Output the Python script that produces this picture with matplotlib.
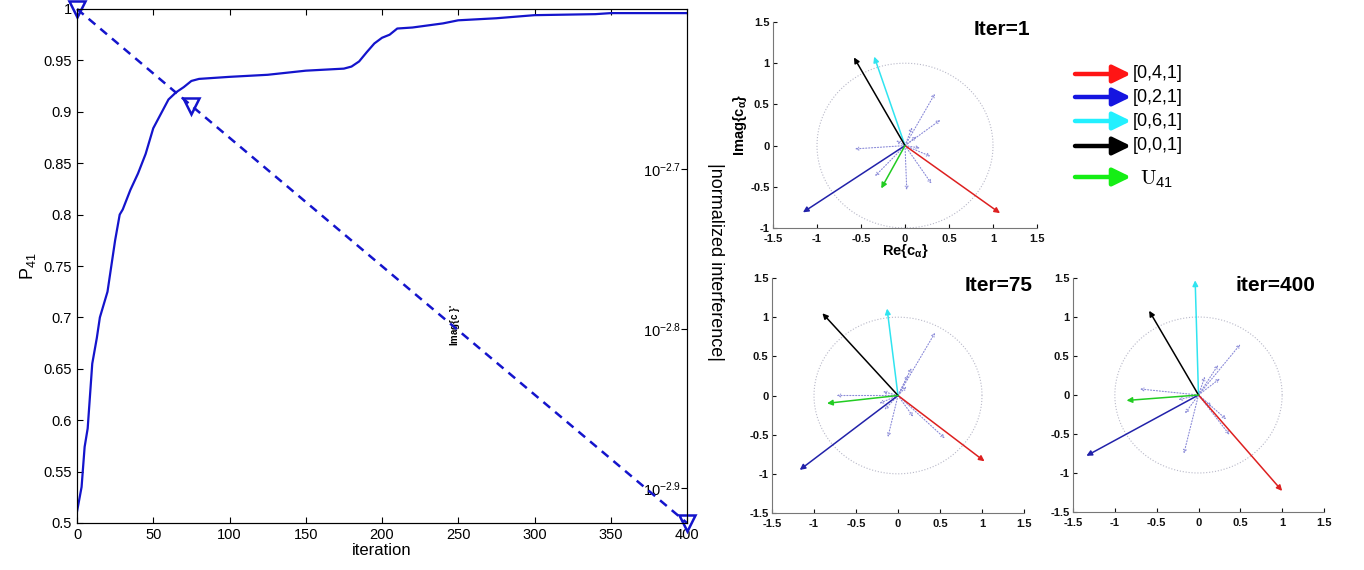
import numpy as np
import matplotlib
matplotlib.use('Agg')
import matplotlib.pyplot as plt
from matplotlib.ticker import FuncFormatter, NullLocator, FixedFormatter

plt.rcParams['font.family'] = ['Liberation Sans', 'DejaVu Sans']
plt.rcParams['mathtext.default'] = 'regular'

# P41 vs iteration
iteracje = [0, 3, 5, 7, 10, 13, 15, 17, 20, 22, 25, 28, 30, 35, 40, 45, 50, 55, 60, 65,
            70, 75, 80, 90, 100, 125, 150, 175, 180, 185, 190, 195, 200, 205, 210, 220,
            240, 250, 275, 300, 340, 350, 400]
p41 = [0.511, 0.535, 0.574, 0.592, 0.655, 0.680, 0.700, 0.710, 0.725, 0.745, 0.775, 0.800,
       0.805, 0.824, 0.840, 0.859, 0.884, 0.898, 0.912, 0.919, 0.924, 0.930, 0.932, 0.933,
       0.934, 0.936, 0.940, 0.942, 0.944, 0.949, 0.958, 0.9665, 0.972, 0.975, 0.981, 0.982,
       0.986, 0.989, 0.991, 0.994, 0.995, 0.996, 0.996]

# normalized interference (right log axis)
iter_interf = [0, 75, 400]
interf = [2.516e-3, 2.188e-3, 1.197e-3]
interf_ticks = [10 ** -2.9, 10 ** -2.8, 10 ** -2.7]
interf_ticklabels = ['$10^{-2.9}$', '$10^{-2.8}$', '$10^{-2.7}$']

# phasors c_alpha: [0,4,1], [0,2,1], [0,6,1], [0,0,1], U41
etykiety = ['[0,4,1]', '[0,2,1]', '[0,6,1]', '[0,0,1]', r'$\mathrm{U}_{41}$']
kolory = ['#dd2020', '#2222aa', '#30e4f0', '#000000', '#22cc22']
kolory_leg = ['#ff1515', '#1515e0', '#22f0ff', '#000000', '#15ee15']

re_it1 = [1.08, -1.16, -0.35, -0.58, -0.27]
im_it1 = [-0.82, -0.81, 1.08, 1.07, -0.52]
re_it75 = [1.03, -1.17, -0.13, -0.90, -0.845]
im_it75 = [-0.84, -0.95, 1.11, 1.05, -0.10]
re_it400 = [1.00, -1.34, -0.04, -0.59, -0.86]
im_it400 = [-1.23, -0.78, 1.47, 1.08, -0.07]

# remaining (dotted) components
re_rest1 = [0.34, 0.40, -0.57, 0.02, 0.30, -0.34, 0.17, 0.13, 0.29, 0.08, -0.10]
im_rest1 = [0.63, 0.31, -0.04, -0.54, -0.46, -0.37, -0.03, 0.11, -0.13, 0.22, 0.06]
re_rest75 = [0.44, -0.73, -0.12, 0.556, 0.18, 0.16, 0.12, -0.16, -0.18, 0.10, -0.22]
im_rest75 = [0.80, 0.0, -0.53, -0.545, -0.27, 0.35, 0.26, -0.18, 0.05, 0.115, -0.10]
re_rest400 = [0.50, -0.70, -0.175, 0.37, 0.33, 0.235, 0.255, 0.076, -0.16, -0.24, 0.155]
im_rest400 = [0.65, 0.077, -0.75, -0.51, -0.31, 0.385, 0.21, 0.235, -0.235, -0.06, -0.15]

W, H = 1364.0, 570.0
fig = plt.figure(figsize=(W / 100, H / 100), dpi=100)


def px(l, r, t, b):
    return [l / W, 1 - b / H, (r - l) / W, (b - t) / H]


# ---------------- left plot ----------------
niebieski = '#1414cc'
ax = fig.add_axes(px(77, 687, 9, 523))
ax.plot(iteracje, p41, color=niebieski, lw=1.6)
ax.set_xlim(0, 400)
ax.set_ylim(0.5, 1.0)
ax.set_xticks(np.arange(0, 401, 50))
ax.set_yticks(np.arange(0.5, 1.001, 0.05))
ax.yaxis.set_major_formatter(FuncFormatter(lambda v, p: '%g' % round(v, 2)))
ax.tick_params(direction='in', length=4, labelsize=10.5, top=True, right=False)
ax.set_xlabel('iteration', fontsize=12, labelpad=1)
ax.set_ylabel('$P_{41}$', fontsize=13, labelpad=4)
for s in ax.spines.values():
    s.set_color('#222222')

ax2 = ax.twinx()
ax2.set_yscale('log')
ax2.plot(iter_interf, interf, ls='--', dashes=(3.5, 2.6), color=niebieski, lw=1.8,
         marker='v', ms=12, mfc='none', mew=1.8, clip_on=False)
ax2.set_ylim(10 ** -2.9219, 10 ** -2.5993)
ax2.set_xlim(0, 400)
ax2.yaxis.set_minor_locator(NullLocator())
ax2.set_yticks(interf_ticks)
ax2.yaxis.set_major_formatter(FixedFormatter(interf_ticklabels))
ax2.tick_params(axis='y', direction='in', length=4, pad=-4, labelsize=10.5)
for lbl in ax2.get_yticklabels():
    lbl.set_horizontalalignment('right')
ax2.set_ylabel('|normalized interference|', fontsize=13, rotation=270, labelpad=22)
ax2.yaxis.set_label_coords(1.06, 0.508)
ax.text(0.62, 0.385, r'Imag{c }$^{\circ}$', transform=ax.transAxes, rotation=90,
        fontsize=7, fontweight='bold', ha='center', va='center')


# ---------------- phasor panels ----------------
theta = np.linspace(0, 2 * np.pi, 300)


def phasors(a, re_main, im_main, re_rest, im_rest, tytul, tx, ylim):
    a.plot(np.cos(theta), np.sin(theta), ls=':', color='#b8b8c8', lw=0.8)
    for x, y in zip(re_rest, im_rest):
        a.annotate('', xy=(x, y), xytext=(0, 0),
                   arrowprops=dict(arrowstyle='->', color='#8a8ad8', lw=0.8, ls=':',
                                   shrinkA=0, shrinkB=0, mutation_scale=5))
    for x, y, c in zip(re_main, im_main, kolory):
        a.annotate('', xy=(x, y), xytext=(0, 0),
                   arrowprops=dict(arrowstyle='-|>', color=c, lw=1.1,
                                   shrinkA=0, shrinkB=0, mutation_scale=8))
    a.set_xlim(-1.5, 1.5)
    a.set_ylim(*ylim)
    a.set_xticks(np.arange(-1.5, 1.51, 0.5))
    a.set_yticks(np.arange(ylim[0], ylim[1] + 0.01, 0.5))
    fmt = FuncFormatter(lambda v, p: '%g' % v)
    a.xaxis.set_major_formatter(fmt)
    a.yaxis.set_major_formatter(fmt)
    a.tick_params(direction='in', length=3, labelsize=8, pad=1.5, colors='#111111')
    a.tick_params(axis='x', pad=4)
    a.tick_params(axis='y', pad=2.5)
    for lbl in a.get_xticklabels() + a.get_yticklabels():
        lbl.set_fontweight('bold')
    a.spines['top'].set_visible(False)
    a.spines['right'].set_visible(False)
    a.spines['left'].set_color('#777777')
    a.spines['bottom'].set_color('#777777')
    a.text(tx, 1.01, tytul, transform=a.transAxes, ha='right', va='top',
           fontsize=15, fontweight='bold')


a1 = fig.add_axes(px(773, 1037, 22, 228))
phasors(a1, re_it1, im_it1, re_rest1, im_rest1, 'Iter=1', 0.975, (-1, 1.5))
a1.set_xlabel(r'Re{c$_{\alpha}$}', fontsize=10.5, fontweight='bold', labelpad=-1)
a1.set_ylabel(r'Imag{c$_{\alpha}$}', fontsize=10.5, fontweight='bold', labelpad=1)

a2 = fig.add_axes(px(772, 1024, 278, 513))
phasors(a2, re_it75, im_it75, re_rest75, im_rest75, 'Iter=75', 1.035, (-1.5, 1.5))

a3 = fig.add_axes(px(1073, 1324, 278, 512))
phasors(a3, re_it400, im_it400, re_rest400, im_rest400, 'iter=400', 0.965, (-1.5, 1.5))

# ---------------- legend ----------------
lg = fig.add_axes(px(1070, 1210, 55, 195))
lg.set_xlim(1070, 1210)
lg.set_ylim(195, 55)
lg.axis('off')
wiersze = [74, 97, 121, 146, 177]
for y, c, t in zip(wiersze, kolory_leg, etykiety):
    lg.annotate('', xy=(1131, y), xytext=(1075, y),
                arrowprops=dict(arrowstyle='-|>,head_length=0.45,head_width=0.22',
                                color=c, lw=3.2, shrinkA=0, shrinkB=0, mutation_scale=24))
    if t.startswith('$'):
        lg.text(1140, y + 2, t, fontsize=15, va='center', ha='left', math_fontfamily='cm')
    else:
        lg.text(1133, y, t, fontsize=13, va='center', ha='left')

fig.savefig('out.png', dpi=100)
